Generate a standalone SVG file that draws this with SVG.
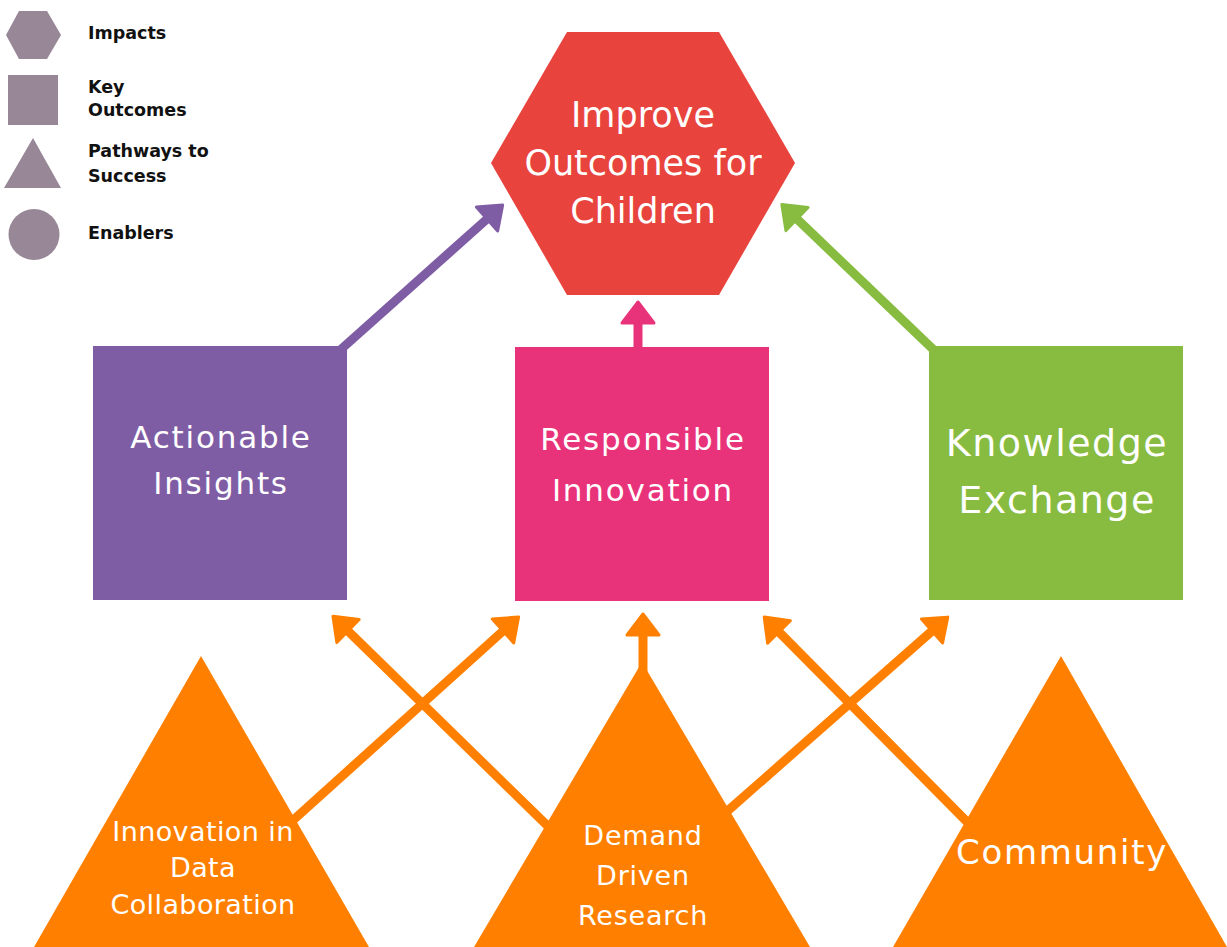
<svg xmlns="http://www.w3.org/2000/svg" width="1227" height="947" viewBox="0 0 1227 947">
  <style>
    .lg { fill: #978797; }
    .lgt { font-family: "DejaVu Sans", "Liberation Sans", sans-serif; font-weight: 700; font-size: 17.5px; fill: #111111; }
    .lbl { font-family: "DejaVu Sans", "Liberation Sans", sans-serif; fill: #ffffff; text-anchor: middle; }
    .c { fill: none; stroke-width: 9; stroke-linecap: butt; }
    .c-orange { stroke: #FF8000; marker-end: url(#head-orange); }
    .c-purple { stroke: #7F5DA5; marker-end: url(#head-purple); }
    .c-pink { stroke: #E8337B; marker-end: url(#head-pink); }
    .c-green { stroke: #88BC41; marker-end: url(#head-green); }
  </style>
  <defs>
    <marker id="head-orange" markerUnits="userSpaceOnUse" viewBox="-3 -20 28 40" refX="0" refY="0" markerWidth="28" markerHeight="40" orient="auto">
      <path d="M0,-16 L21,0 L0,16 Z" fill="#FF8000" stroke="#FF8000" stroke-width="3" stroke-linejoin="round"/>
    </marker>
    <marker id="head-purple" markerUnits="userSpaceOnUse" viewBox="-3 -20 28 40" refX="0" refY="0" markerWidth="28" markerHeight="40" orient="auto">
      <path d="M0,-16 L21,0 L0,16 Z" fill="#7F5DA5" stroke="#7F5DA5" stroke-width="3" stroke-linejoin="round"/>
    </marker>
    <marker id="head-pink" markerUnits="userSpaceOnUse" viewBox="-3 -20 28 40" refX="0" refY="0" markerWidth="28" markerHeight="40" orient="auto">
      <path d="M0,-16 L21,0 L0,16 Z" fill="#E8337B" stroke="#E8337B" stroke-width="3" stroke-linejoin="round"/>
    </marker>
    <marker id="head-green" markerUnits="userSpaceOnUse" viewBox="-3 -20 28 40" refX="0" refY="0" markerWidth="28" markerHeight="40" orient="auto">
      <path d="M0,-16 L21,0 L0,16 Z" fill="#88BC41" stroke="#88BC41" stroke-width="3" stroke-linejoin="round"/>
    </marker>
  </defs>

  <rect width="1227" height="947" fill="#ffffff"/>

  <!-- legend -->
  <g id="legend">
    <polygon class="lg" points="6,35 19,11 47,11 61,35 47,59 19,59"/>
    <rect class="lg" x="8" y="75" width="50" height="50"/>
    <polygon class="lg" points="33,138 61,188 4,188"/>
    <circle class="lg" cx="34" cy="234.5" r="25.5"/>
    <text class="lgt" x="88" y="39">Impacts</text>
    <text class="lgt" x="88" y="93">Key</text>
    <text class="lgt" x="88" y="116">Outcomes</text>
    <text class="lgt" x="88" y="157">Pathways to</text>
    <text class="lgt" x="88" y="182">Success</text>
    <text class="lgt" x="88" y="239">Enablers</text>
  </g>

  <!-- connectors: drawn first so the nodes cover their tails -->
  <g id="connectors">
    <line class="c c-purple" x1="338" y1="352" x2="487" y2="219"/>
    <line class="c c-pink" x1="638" y1="350" x2="638" y2="323"/>
    <line class="c c-green" x1="938" y1="354" x2="797" y2="219"/>
    <line class="c c-orange" x1="280" y1="832" x2="503" y2="631"/>
    <line class="c c-orange" x1="560" y1="838" x2="348" y2="631"/>
    <line class="c c-orange" x1="643" y1="680" x2="643" y2="635"/>
    <line class="c c-orange" x1="715" y1="822" x2="932" y2="631"/>
    <line class="c c-orange" x1="985" y1="840" x2="779" y2="632"/>
  </g>

  <!-- impact -->
  <g id="impact-children">
    <polygon points="491,163 567,32 719,32 795,163 719,295 567,295" fill="#E8433D"/>
    <text class="lbl" font-size="35" x="643" y="127">Improve</text>
    <text class="lbl" font-size="35" x="643" y="175">Outcomes for</text>
    <text class="lbl" font-size="35" x="643" y="223">Children</text>
  </g>

  <!-- key outcomes -->
  <g id="outcome-insights" letter-spacing="1.8">
    <rect x="93" y="346" width="254" height="254" fill="#7F5DA5"/>
    <text class="lbl" font-size="31" x="221" y="448">Actionable</text>
    <text class="lbl" font-size="31" x="221" y="494">Insights</text>
  </g>
  <g id="outcome-innovation" letter-spacing="1.8">
    <rect x="515" y="347" width="254" height="254" fill="#E8337B"/>
    <text class="lbl" font-size="31" x="643" y="450">Responsible</text>
    <text class="lbl" font-size="31" x="643" y="501">Innovation</text>
  </g>
  <g id="outcome-exchange" letter-spacing="1.5">
    <rect x="929" y="346" width="254" height="254" fill="#88BC41"/>
    <text class="lbl" font-size="38" x="1057" y="456">Knowledge</text>
    <text class="lbl" font-size="38" x="1057" y="513">Exchange</text>
  </g>

  <!-- pathways to success -->
  <g id="pathway-data" letter-spacing="0.4">
    <polygon points="201,656 369,947 34,947" fill="#FF8000"/>
    <text class="lbl" font-size="27" x="203" y="841">Innovation in</text>
    <text class="lbl" font-size="27" x="203" y="877">Data</text>
    <text class="lbl" font-size="27" x="203" y="914">Collaboration</text>
  </g>
  <g id="pathway-research" letter-spacing="0.8">
    <polygon points="642,662 810,947 474,947" fill="#FF8000"/>
    <text class="lbl" font-size="27" x="643" y="845">Demand</text>
    <text class="lbl" font-size="27" x="643" y="885">Driven</text>
    <text class="lbl" font-size="27" x="643" y="925">Research</text>
  </g>
  <g id="pathway-community" letter-spacing="1.7">
    <polygon points="1061,656 1227,947 893,947" fill="#FF8000"/>
    <text class="lbl" font-size="34" x="1062" y="864">Community</text>
  </g>
</svg>
